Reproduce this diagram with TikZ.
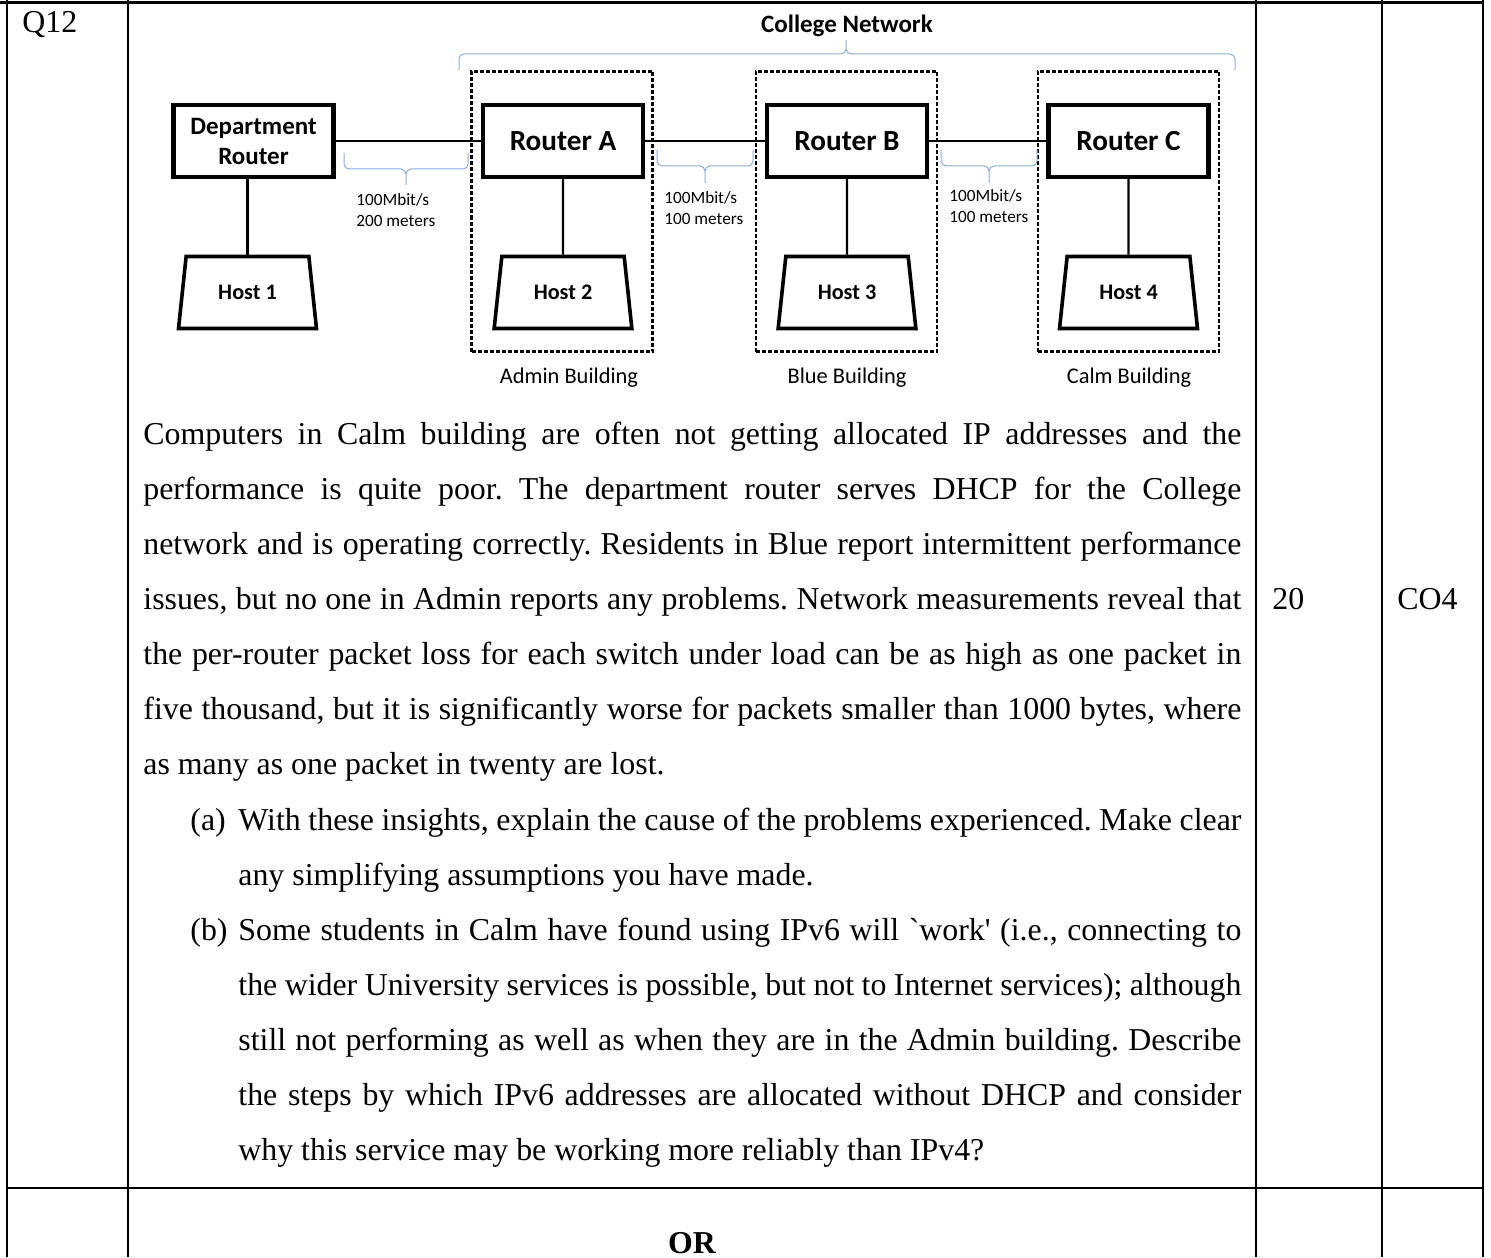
\documentclass[tikz,border=0pt]{standalone}
\usepackage{fontspec}
\setmainfont{Liberation Serif}[Ligatures=TeXOff]
\newfontfamily\netfont{Carlito}
\usetikzlibrary{positioning,shapes.geometric}
\definecolor{QSpan}{HTML}{8FAADC}
\definecolor{QInk}{HTML}{000000}
\tikzset{
  rule/.style={QInk,line width=1.4pt},
  router/.style={draw=QInk,line width=2.2pt,minimum width=80pt,minimum height=36pt,inner sep=0pt,
                 font=\netfont\bfseries\fontsize{14.6}{17}\selectfont},
  host/.style={draw=QInk,trapezium,trapezium stretches=true,trapezium left angle=76,
               trapezium right angle=76,line width=1.8pt,minimum width=69pt,minimum height=36pt,
               inner sep=0pt,font=\netfont\bfseries\fontsize{11.1}{13}\selectfont},
  building/.style={draw=QInk,line width=1.4pt,dash pattern=on 2pt off 1pt,
                   minimum width=90.5pt,minimum height=140pt,inner sep=0pt},
  wire/.style={QInk,line width=1.1pt},
  span/.style={draw=QSpan,line width=0.5pt,rounded corners=2.5pt},
  rate/.style={font=\netfont\fontsize{8.6}{10.5}\selectfont,align=left,inner sep=0pt},
  bldglabel/.style={font=\netfont\fontsize{11.2}{13}\selectfont,inner sep=0pt},
  body/.style={font=\fontsize{15.93}{27.55}\selectfont,inner sep=0pt},
}

\begin{document}
\begin{tikzpicture}[x=0.5pt,y=-0.5pt]
  \useasboundingbox (0,0) rectangle (1491,1257);

  % table rules
  \draw[rule] (0,2.5) -- (1483,2.5);
  \foreach \x in {7,128,1256,1382,1483}
    \draw[rule] (\x,0) -- (\x,1257);
  \draw[rule] (7,1188) -- (1483,1188);

  \node[body,anchor=base west] (qno) at (22,33) {Q12};
  \node[body,anchor=base west] (marks) at (1272,609) {20};
  \node[body,anchor=base west] (co) at (1397,609) {CO4};
  \node[body,font=\fontsize{15.93}{27.55}\selectfont\bfseries,anchor=base] (or) at (692,1253) {OR};

  % buildings
  \node[building] (admin) at (562,211.5) {};
  \node[building] (blue) at (846.5,211.5) {};
  \node[building] (calm) at (1128.5,211.5) {};
  \node[bldglabel] (adminlbl) at (569,378) {Admin Building};
  \node[bldglabel] (bluelbl) at (847,378) {Blue Building};
  \node[bldglabel] (calmlbl) at (1129,378) {Calm Building};

  % routers and hosts
  \node[router,align=center,font=\netfont\bfseries\fontsize{12.5}{15}\selectfont] (dept) at (253.5,141)
    {Department\\Router};
  \node[router] (ra) at (563,141) {Router A};
  \node[router] (rb) at (847,141) {Router B};
  \node[router] (rc) at (1128.5,141) {Router C};

  \node[host] (h1) at (247.5,292.5) {Host 1};
  \node[host] (h2) at (563,292.5) {Host 2};
  \node[host] (h3) at (847,292.5) {Host 3};
  \node[host] (h4) at (1128.5,292.5) {Host 4};

  \draw[wire] (dept) -- (ra);
  \draw[wire] (ra) -- (rb);
  \draw[wire] (rb) -- (rc);
  \draw[wire] (h1.north) -- (h1.north |- dept.south);
  \draw[wire] (ra) -- (h2);
  \draw[wire] (rb) -- (h3);
  \draw[wire] (rc) -- (h4);

  % spans and link figures
  \draw[span] (459,70) |- (846,54) -- (846,40) (1235,70) |- (846,54) -- (846,40);
  \node[font=\netfont\bfseries\fontsize{12.5}{15}\selectfont,inner sep=0pt] (college) at (847,26)
    {College Network};
  \draw[span] (344,153) |- (406,169) -- (406,185) (468,153) |- (406,169) -- (406,185);
  \draw[span] (657,150) |- (705,166) -- (705,183) (753,150) |- (705,166) -- (705,183);
  \draw[span] (941,150) |- (989,166) -- (989,183) (1037,150) |- (989,166) -- (989,183);
  \node[rate,anchor=west] (l1) at (356,210.5) {100Mbit/s\\200 meters};
  \node[rate,anchor=west] (l2) at (664,208.5) {100Mbit/s\\100 meters};
  \node[rate,anchor=west] (l3) at (949,206.5) {100Mbit/s\\100 meters};

  % question text
  \node[body,text width=549pt,align=justify,anchor=base west] (para) at (143,444)
    {\frenchspacing
     Computers in Calm building are often not getting allocated IP addresses and the\linebreak
     performance is quite poor. The department router serves DHCP for the College\linebreak
     network and is operating correctly. Residents in Blue report intermittent performance\linebreak
     issues, but no one in Admin reports any problems. Network measurements reveal that\linebreak
     the per-router packet loss for each switch under load can be as high as one packet in\linebreak
     five thousand, but it is significantly worse for packets smaller than 1000 bytes, where\linebreak
     as many as one packet in twenty are lost.};

  \node[body,anchor=base west] (ia) at (190,830) {(a)};
  \node[body,text width=501.5pt,align=justify,anchor=base west] (ta) at (238,830)
    {\frenchspacing
     With these insights, explain the cause of the problems experienced. Make clear\linebreak
     any simplifying assumptions you have made.};

  \node[body,anchor=base west] (ib) at (190,940.2) {(b)};
  \node[body,text width=501.5pt,align=justify,anchor=base west] (tb) at (238,940.2)
    {\frenchspacing
     Some students in Calm have found using IPv6 will `work' (i.e., connecting to\linebreak
     the wider University services is possible, but not to Internet services); although\linebreak
     still not performing as well as when they are in the Admin building. Describe\linebreak
     the steps by which IPv6 addresses are allocated without DHCP and consider\linebreak
     why this service may be working more reliably than IPv4?};
\end{tikzpicture}
\end{document}
